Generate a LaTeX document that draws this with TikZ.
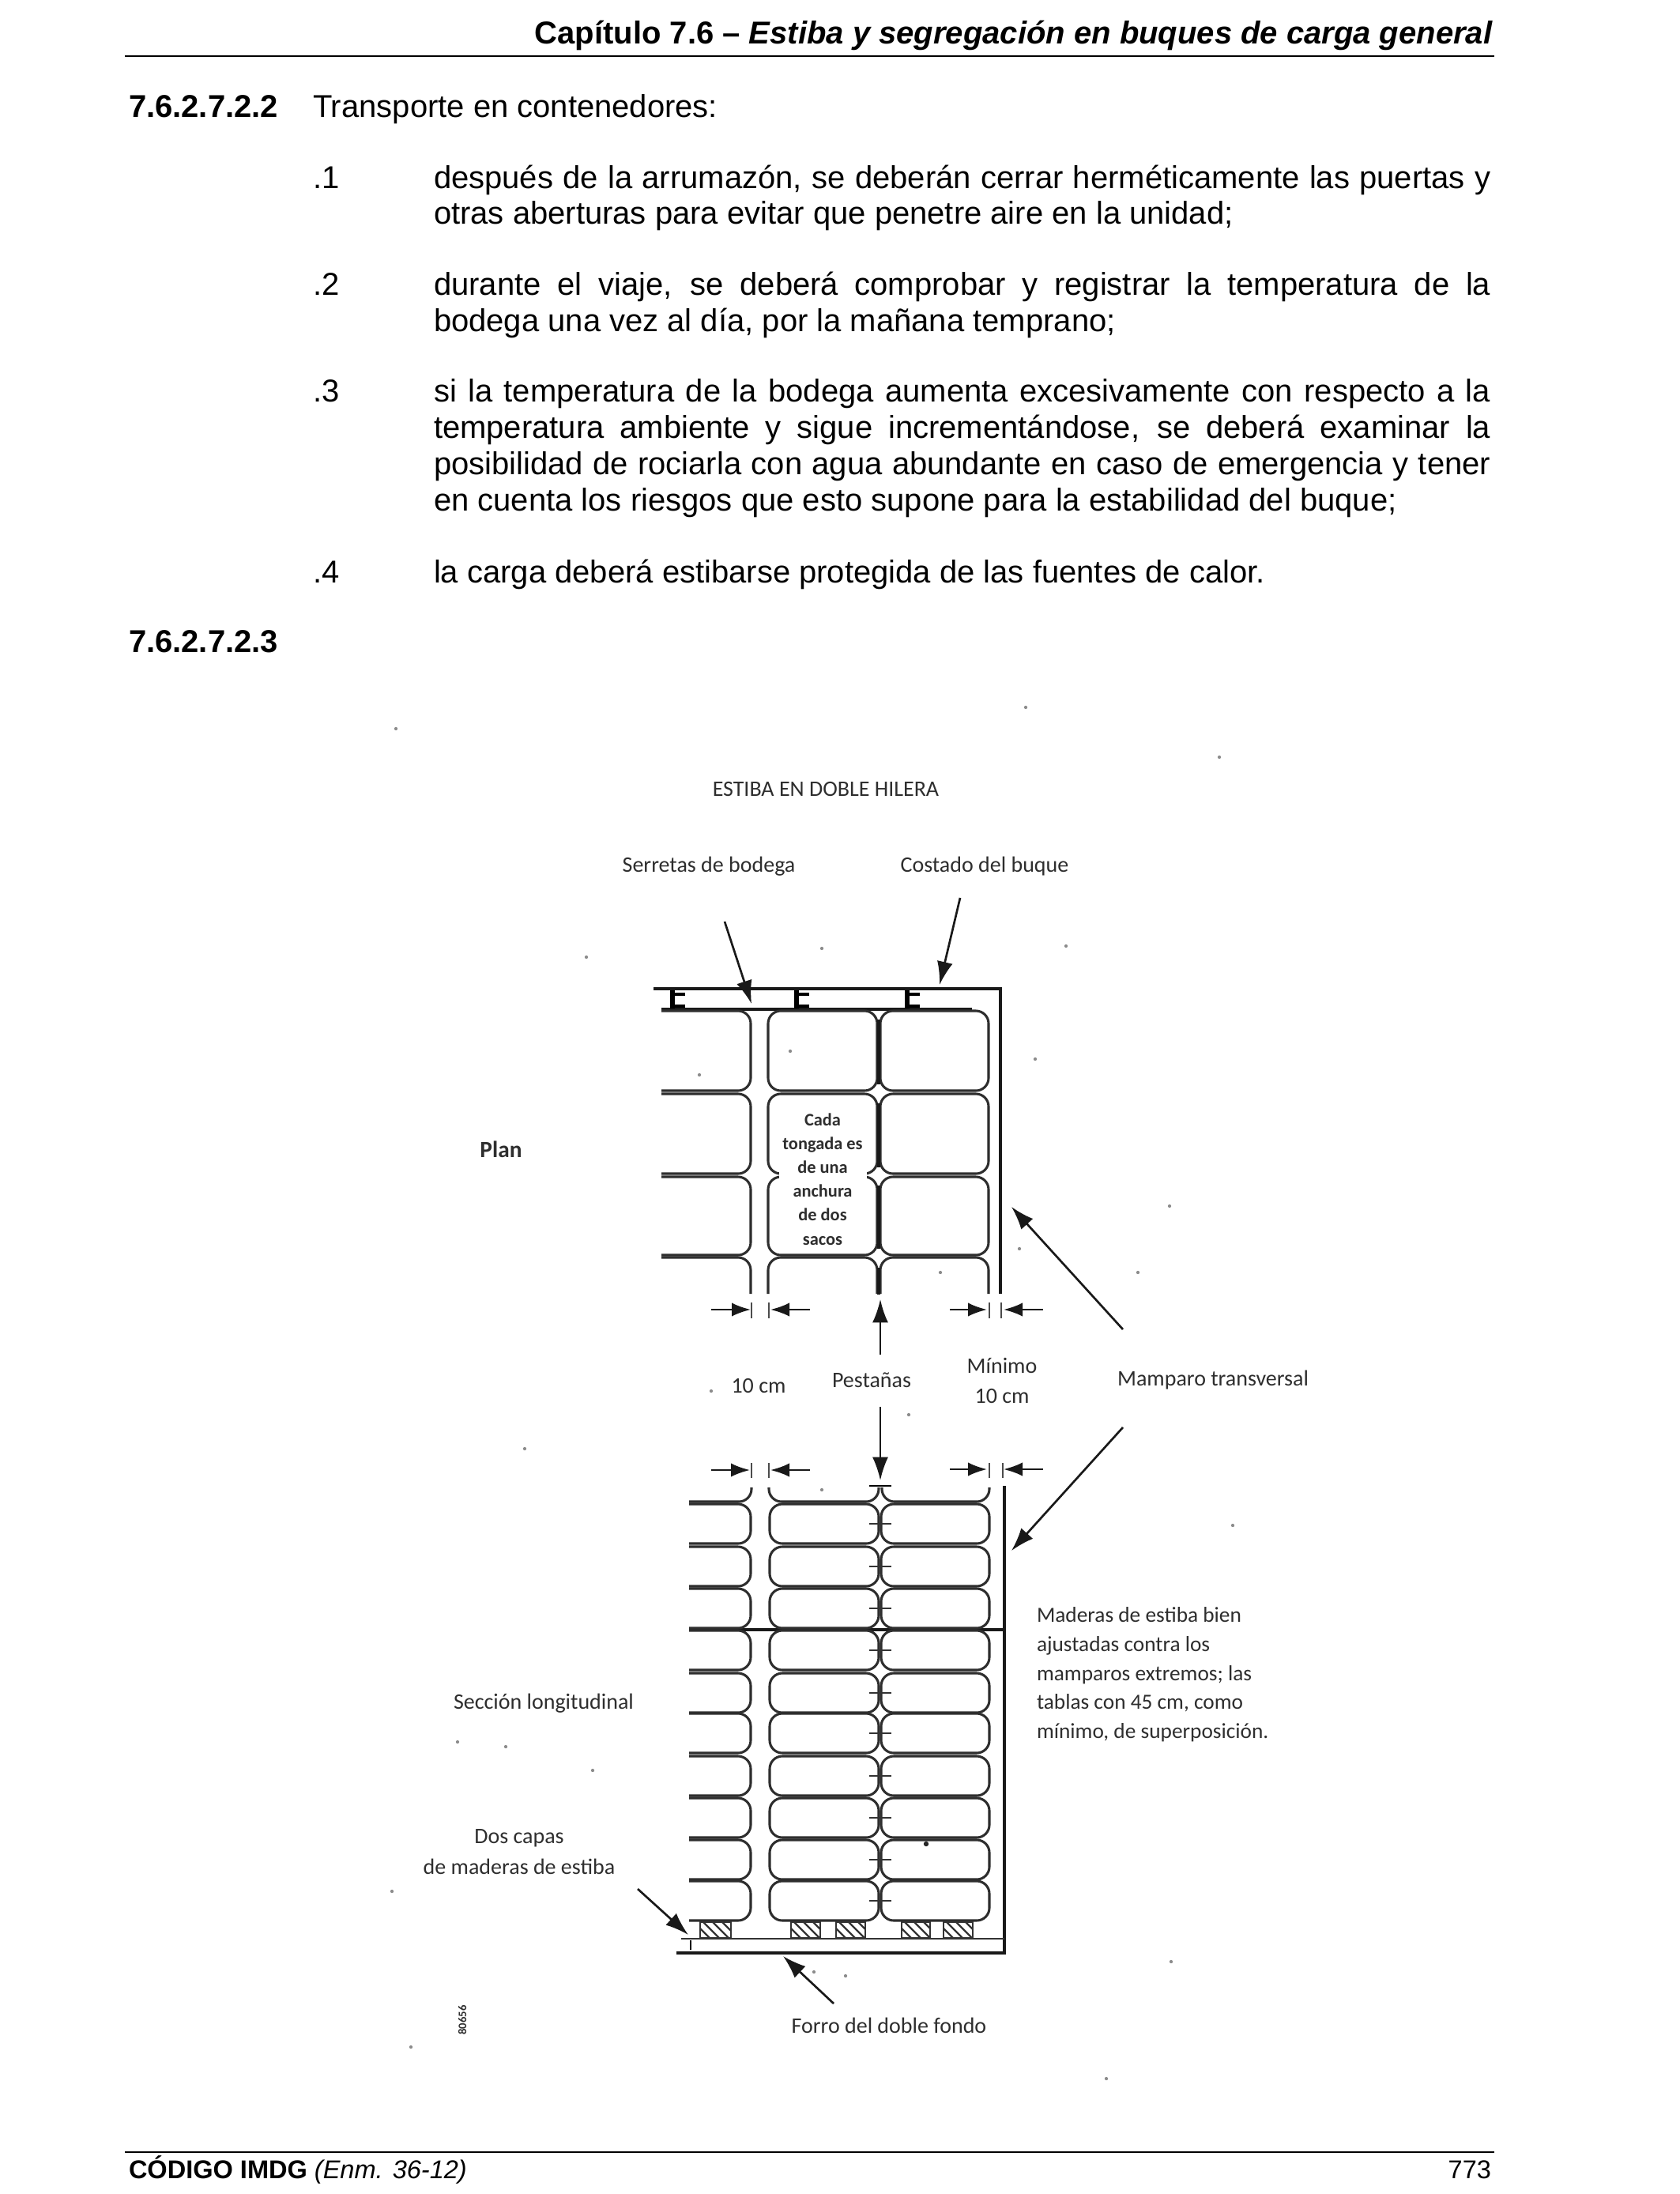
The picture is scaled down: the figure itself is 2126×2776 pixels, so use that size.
\documentclass[tikz,border=0pt]{standalone}
\usepackage{fontspec}
\setmainfont{Liberation Sans}
\newfontfamily\scanfont{Carlito}
\usetikzlibrary{arrows.meta}
\definecolor{scan}{HTML}{2E2E2E}
\newcommand{\bodyfont}{\fontsize{30}{34.5}\selectfont}
\newcommand{\labfont}{\scanfont\fontsize{21}{27.5}\selectfont}
\newcommand{\baglr}[4]{\draw[bag] (#1,#3) rectangle (#2,#4);}
\tikzset{
  x=0.75pt,y=-0.75pt,
  txt/.style={anchor=base west,inner sep=0pt,outer sep=0pt,text=black,font=\bodyfont},
  para/.style={txt,text width=1003pt,align=justify},
  lab/.style={inner sep=0pt,outer sep=0pt,text=scan,font=\labfont},
  bag/.style={draw=scan,line width=2.3pt,rounded corners=12pt},
  heavy/.style={draw=black!90,line width=2.8pt},
  thin/.style={draw=black!80,line width=1.7pt},
  dim/.style={draw=black!90,line width=1.8pt,-{Latex[length=18pt,width=13pt]}},
  lead/.style={draw=black!90,line width=2pt,-{Latex[length=22pt,width=15pt]}},
  tick/.style={draw=black!70,line width=2pt},
  speck/.style={fill=black!45}
}
\begin{document}
\begin{tikzpicture}
\useasboundingbox (0,0) rectangle (2126,2776);
\fill[white] (0,0) rectangle (2126,2776);
% page text
\node[txt,anchor=base east,font=\bodyfont\bfseries] (hdr) at (1889,56) {Capítulo 7.6 – \textit{Estiba y segregación en buques de carga general}};
\draw[line width=1.2pt] (158,71) -- (1891,71);
\node[txt,font=\bodyfont\bfseries] (s1) at (163,149) {7.6.2.7.2.2};
\node[txt] (s1t) at (396,149) {Transporte en contenedores:};
\node[txt] (n1) at (396,238) {.1};
\node[para] (p1) at (549,238) {después de la arrumazón, se deberán cerrar herméticamente las puertas y\linebreak otras aberturas para evitar que penetre aire en la unidad;};
\node[txt] (n2) at (396,373) {.2};
\node[para] (p2) at (549,373) {durante el viaje, se deberá comprobar y registrar la temperatura de la\linebreak bodega una vez al día, por la mañana temprano;};
\node[txt] (n3) at (396,508) {.3};
\node[para] (p3) at (549,508) {si la temperatura de la bodega aumenta excesivamente con respecto a la\linebreak temperatura ambiente y sigue incrementándose, se deberá examinar la\linebreak posibilidad de rociarla con agua abundante en caso de emergencia y tener\linebreak en cuenta los riesgos que esto supone para la estabilidad del buque;};
\node[txt] (n4) at (396,737) {.4};
\node[para] (p4) at (549,737) {la carga deberá estibarse protegida de las fuentes de calor.};
\node[txt,font=\bodyfont\bfseries] (s2) at (163,825) {7.6.2.7.2.3};
\draw[line width=1.2pt] (158,2723) -- (1891,2723);
\node[txt,font=\fontsize{24.4}{30}\selectfont\bfseries] (foot) at (163,2756) {CÓDIGO IMDG \textmd{\textit{(Enm. 36-12)}}};
\node[txt,anchor=base east,font=\fontsize{24.4}{30}\selectfont] (pg) at (1887,2756) {773};
% plan: structure
\draw[heavy] (827,1251) -- (1266,1251) -- (1266,1637);
\draw[heavy] (837,1277) -- (1230,1277);
\foreach \fx in {851,1008,1148}{
  \draw[draw=black,line width=4pt] (\fx,1253) -- (\fx,1276);
  \draw[draw=black,line width=2.6pt] (\fx,1258) -- (\fx+16,1258) (\fx,1273) -- (\fx+16,1273);
}
% plan: bags
\foreach \t/\b in {1279/1380,1384/1485,1489/1588}{
  \draw[bag] (837,\t) -- (950,\t) -- (950,\b) -- (837,\b);
  \baglr{972}{1110}{\t}{\b}
  \baglr{1114}{1251}{\t}{\b}
}
\draw[bag] (837,1591) -- (950,1591) -- (950,1637);
\draw[bag] (972,1637) -- (972,1591) -- (1110,1591) -- (1110,1637);
\draw[bag] (1114,1637) -- (1114,1591) -- (1251,1591) -- (1251,1637);
\fill[white] (986,1478) rectangle (1097,1496);
\draw[heavy] (1112,1290) -- (1112,1372) (1112,1396) -- (1112,1477) (1112,1500) -- (1112,1580) (1112,1604) -- (1112,1638);
% plan text
\node[lab,align=center,font=\scanfont\bfseries\fontsize{16.8}{22.6}\selectfont] (cada) at (1041,1492) {Cada\\tongada es\\de una\\anchura\\de dos\\sacos};
% plan dims
\coordinate (d1a) at (900,1657); \coordinate (d1b) at (950,1657);
\coordinate (d2a) at (1025,1657); \coordinate (d2b) at (975,1657);
\coordinate (d3a) at (1202,1657); \coordinate (d3b) at (1249,1657);
\coordinate (d4a) at (1320,1657); \coordinate (d4b) at (1270,1657);
\draw[dim] (d1a) -- (d1b);
\draw[dim] (d2a) -- (d2b);
\draw[dim] (d3a) -- (d3b);
\draw[dim] (d4a) -- (d4b);
\foreach \tx in {951,973,1252,1267}{\draw[tick] (\tx,1648) -- (\tx,1668);}
% section dims
\coordinate (e1a) at (900,1860); \coordinate (e1b) at (949,1860);
\coordinate (e2a) at (1025,1860); \coordinate (e2b) at (975,1860);
\coordinate (e3a) at (1202,1859); \coordinate (e3b) at (1249,1859);
\coordinate (e4a) at (1320,1859); \coordinate (e4b) at (1270,1859);
\draw[dim] (e1a) -- (e1b);
\draw[dim] (e2a) -- (e2b);
\draw[dim] (e3a) -- (e3b);
\draw[dim] (e4a) -- (e4b);
\foreach \tx in {951,973,1252,1269}{\draw[tick] (\tx,1851) -- (\tx,1870);}
% labels
\node[lab] (title) at (1045,998) {ESTIBA EN DOBLE HILERA};
\node[lab] (serr) at (897,1096) {Serretas de bodega};
\node[lab] (cost) at (1246,1096) {Costado del buque};
\node[lab,font=\scanfont\bfseries\fontsize{22}{27.5}\selectfont] (plan) at (634,1454) {Plan};
\node[lab] (tencm) at (960,1753) {10 cm};
\node[lab] (pest) at (1103,1746) {Pestañas};
\node[lab,align=center,font=\scanfont\fontsize{21}{28}\selectfont] (minimo) at (1268,1747) {Mínimo\\10 cm};
\node[lab] (mamp) at (1535,1746) {Mamparo transversal};
\node[lab,align=left,anchor=west,font=\scanfont\fontsize{20.5}{27.5}\selectfont] (mader) at (1312,2119) {Maderas de estiba bien\\ajustadas contra los\\mamparos extremos; las\\tablas con 45 cm, como\\mínimo, de superposición.};
\node[lab] (secc) at (688,2155) {Sección longitudinal};
\node[lab,align=center,font=\scanfont\fontsize{21}{29}\selectfont] (dos) at (657,2343) {Dos capas\\de maderas de estiba};
\node[lab] (forro) at (1125,2563) {Forro del doble fondo};
\node[lab,rotate=90,font=\scanfont\bfseries\fontsize{11}{12}\selectfont] (code) at (585,2556) {80656};
% leaders
\coordinate (a1a) at (917,1166); \coordinate (a1b) at (951,1270);
\coordinate (a2a) at (1215,1136); \coordinate (a2b) at (1189,1246);
\coordinate (a3a) at (1421,1682); \coordinate (a3b) at (1280,1527);
\coordinate (a4a) at (1421,1806); \coordinate (a4b) at (1280,1962);
\coordinate (a5a) at (807,2390); \coordinate (a5b) at (871,2448);
\coordinate (a6a) at (1055,2535); \coordinate (a6b) at (991,2475);
\coordinate (p1a) at (1114,1714); \coordinate (p1b) at (1114,1644);
\coordinate (p2a) at (1114,1780); \coordinate (p2b) at (1114,1873);
\draw[lead] (a1a) -- (a1b);
\draw[lead] (a2a) -- (a2b);
\draw[lead] (a3a) -- (a3b);
\draw[lead] (a4a) -- (a4b);
\draw[lead] (a5a) -- (a5b);
\draw[lead] (a6a) -- (a6b);
\draw[lead] (p1a) -- (p1b);
\draw[lead] (p2a) -- (p2b);
% section: structure
\draw[heavy] (1271,1880) -- (1271,2471) -- (856,2471);
\draw[heavy] (872,2062) -- (1271,2062);
\draw[thin] (862,2453) -- (1271,2453);
\draw[line width=2.2pt] (874,2455) -- (874,2467);
\draw[line width=2.2pt] (1100,1880) -- (1128,1880);
% section: top partial row
\draw[bag] (951,1882) -- (951,1900) -- (872,1900);
\draw[bag] (973,1882) -- (973,1900) -- (1112,1900) -- (1112,1882);
\draw[bag] (1116,1882) -- (1116,1900) -- (1252,1900) -- (1252,1882);
% section: bags
\foreach \t in {1903,1957,2010,2063,2117,2168,2222,2275,2328,2380}{
  \pgfmathsetmacro{\bt}{\t+50}
  \draw[bag] (872,\t) -- (950,\t) -- (950,\bt) -- (872,\bt);
  \baglr{974}{1112}{\t}{\bt}
  \baglr{1115}{1252}{\t}{\bt}
  \pgfmathsetmacro{\mt}{\t+25}
  \draw[thin] (1100,\mt) -- (1128,\mt);
}
% dunnage
\foreach \l/\r in {886/925,1001/1038,1058/1095,1141/1177,1194/1231}{
  \begin{scope}
    \clip (\l,2432) rectangle (\r,2452);
    \foreach \s in {-20,-8,...,60}{\draw[line width=1.8pt,draw=black!80] (\l+\s,2432) -- (\l+\s+20,2452);}
  \end{scope}
  \draw[line width=1.8pt,draw=black!80] (\l,2432) rectangle (\r,2452);
}
% scan specks
\foreach \sx/\sy in {501/922,1298/895,1543/958,1349/1197,1480/1526,742/1211,664/1833,579/2204,496/2393,1482/2482,1040/1200,1000/1330,885/1360,1310/1340,1290/1580,1190/1610,900/1760,1040/1885,1150/1790,1440/1610,1560/1930,750/2240,640/2210,1400/2630,520/2590,1030/2495,1070/2500}{
  \fill[speck] (\sx,\sy) circle[radius=1.6pt];
}
\fill[black!85] (1172,2333) circle[radius=2.4pt];
\end{tikzpicture}
\end{document}
